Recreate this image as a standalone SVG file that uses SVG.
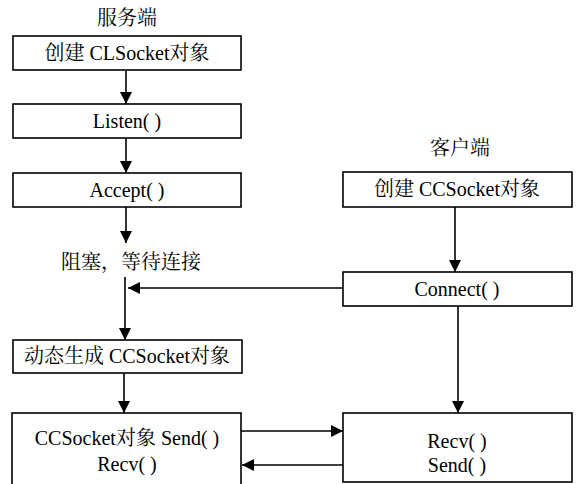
<svg xmlns="http://www.w3.org/2000/svg" width="578" height="484" viewBox="0 0 578 484">
<style>
.box{fill:#fff;stroke:#000;stroke-width:1.6}
.t{font-family:'Liberation Serif','Noto Serif CJK SC','Noto Sans CJK SC',serif;font-size:20px;fill:#000;text-anchor:middle}
.c{stroke:#000;stroke-width:1.6;fill:none}
</style>
<defs>
<marker id="ah" viewBox="0 0 12 12" refX="12" refY="6" markerWidth="12" markerHeight="12" markerUnits="userSpaceOnUse" orient="auto">
<path d="M0,0 L12,6 L0,12 Z" fill="#000"/>
</marker>
</defs>
<rect width="578" height="484" fill="#fff"/>
<text class="t" x="127" y="25">服务端</text>
<text class="t" x="460" y="155">客户端</text>
<text class="t" x="131" y="269">阻塞，等待连接</text>
<g id="connectors">
<line class="c" x1="126" y1="71" x2="126" y2="104" marker-end="url(#ah)"/>
<line class="c" x1="126" y1="138" x2="126" y2="173" marker-end="url(#ah)"/>
<line class="c" x1="126" y1="207" x2="126" y2="243" marker-end="url(#ah)"/>
<line class="c" x1="125" y1="277" x2="125" y2="340" marker-end="url(#ah)"/>
<line class="c" x1="343" y1="288" x2="128" y2="288" marker-end="url(#ah)"/>
<line class="c" x1="124" y1="373" x2="124" y2="413" marker-end="url(#ah)"/>
<line class="c" x1="455" y1="207" x2="455" y2="272" marker-end="url(#ah)"/>
<line class="c" x1="458" y1="306" x2="458" y2="413" marker-end="url(#ah)"/>
<line class="c" x1="241" y1="431" x2="343" y2="431" marker-end="url(#ah)"/>
<line class="c" x1="343" y1="465" x2="242" y2="465" marker-end="url(#ah)"/>
</g>
<g id="create-clsocket"><rect class="box" x="13" y="36" width="228" height="34"/><text class="t" x="127" y="60">创建 CLSocket对象</text></g>
<g id="listen"><rect class="box" x="13" y="104" width="228" height="34"/><text class="t" x="127" y="128">Listen( )</text></g>
<g id="accept"><rect class="box" x="13" y="173" width="228" height="34"/><text class="t" x="127" y="197">Accept( )</text></g>
<g id="dynamic-ccsocket"><rect class="box" x="13" y="340" width="229" height="33"/><text class="t" x="127" y="363">动态生成 CCSocket对象</text></g>
<g id="server-io"><rect class="box" x="12" y="413" width="229" height="80"/><text class="t" x="127" y="445">CCSocket对象 Send( )</text><text class="t" x="127" y="471">Recv( )</text></g>
<g id="create-ccsocket"><rect class="box" x="343" y="172" width="229" height="35"/><text class="t" x="457" y="196">创建 CCSocket对象</text></g>
<g id="connect"><rect class="box" x="343" y="272" width="229" height="34"/><text class="t" x="457" y="296">Connect( )</text></g>
<g id="client-io"><rect class="box" x="343" y="413" width="229" height="69"/><text class="t" x="457" y="448">Recv( )</text><text class="t" x="457" y="472">Send( )</text></g>
</svg>
